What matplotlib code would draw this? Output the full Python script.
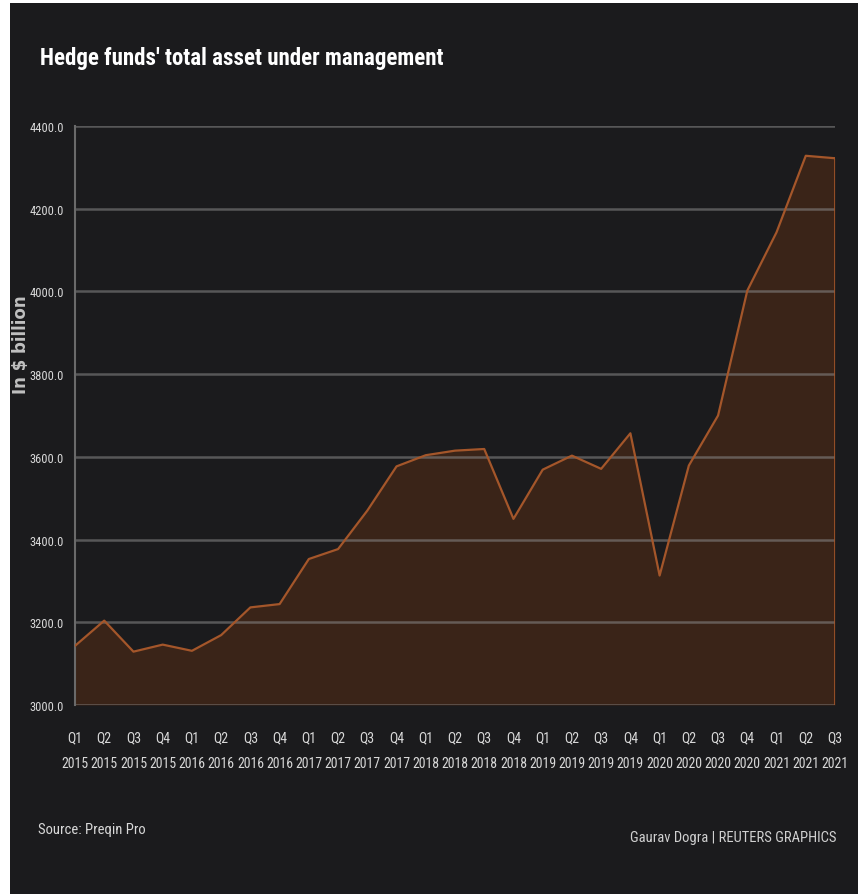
import matplotlib
matplotlib.use("Agg")
import matplotlib.pyplot as plt
from matplotlib.patches import Rectangle
from matplotlib import font_manager

quarters = ["Q1", "Q2", "Q3", "Q4"] * 6 + ["Q1", "Q2", "Q3"]
years = ([str(y) for y in range(2015, 2021) for _ in range(4)]
         + ["2021"] * 3)
aum = [3143, 3204, 3129, 3146, 3131, 3169, 3236, 3244,
       3353, 3377, 3470, 3577, 3604, 3615, 3619, 3450,
       3569, 3603, 3571, 3657, 3313, 3579, 3700, 4002,
       4143, 4328, 4322]
yticks = [3000, 3200, 3400, 3600, 3800, 4000, 4200, 4400]

names = {f.name for f in font_manager.fontManager.ttflist}
narrow = [n for n in ["Roboto Condensed", "Liberation Sans Narrow", "Open Sans Condensed"] if n in names]
cond = narrow + ["Roboto", "DejaVu Sans"]

BG = "#1b1b1d"
W, H = 858, 895
fig = plt.figure(figsize=(W / 100, H / 100), dpi=100, facecolor="white")
fig.patches.append(Rectangle((10 / W, 0), 1 - 10 / W, 1 - 4 / H,
                             transform=fig.transFigure, facecolor=BG,
                             edgecolor="none", zorder=-10))

ax = fig.add_axes([75 / W, 1 - 706 / H, (835 - 75) / W, (706 - 127) / H])
ax.set_facecolor(BG)
ax.patch.set_alpha(0)
x = list(range(len(aum)))
ax.fill_between(x, 3000, aum, color="#3a2418", zorder=1, linewidth=0)
ax.plot(x, aum, color="#a4562a", lw=1.6, zorder=3)
ax.plot([x[-1], x[-1]], [3000, aum[-1]], color="#a4562a", lw=1.2, zorder=3)
ax.set_xlim(0, len(aum) - 1)
ax.set_ylim(3000, 4400)
for v in yticks:
    ax.axhline(v, color="#8a8a8a", lw=1.8, alpha=0.55, zorder=2)
ax.set_yticks(yticks)
ax.set_yticklabels([f"{v:.1f}" for v in yticks], fontsize=9,
                   color="#d8d8d8", family=cond)
ax.set_xticks(x)
ax.set_xticklabels([f"{q}\n{y}" for q, y in zip(quarters, years)],
                   fontsize=10, color="#d8d8d8", family=cond, linespacing=2.1)
ax.tick_params(axis="x", length=0, pad=18)
ax.tick_params(axis="y", length=0, pad=8)
for s in ["top", "right", "bottom"]:
    ax.spines[s].set_visible(False)
ax.spines["left"].set_color("#6a6a6a")
ax.spines["left"].set_linewidth(1.5)

fig.text(21 / W, 1 - 345 / H, "In $ billion", rotation=90, ha="center",
         va="center", fontsize=12, fontweight="bold", color="#c0c0c0",
         family="DejaVu Sans")
fig.text(40 / W, 1 - 59 / H, "Hedge funds' total asset under management",
         ha="left", va="center", fontsize=16.5, fontweight="bold",
         color="white", family=cond)
fig.text(38 / W, 1 - 830 / H, "Source: Preqin Pro", ha="left", va="center",
         fontsize=10.5, color="#d8d8d8", family=cond)
fig.text(836 / W, 1 - 838 / H, "Gaurav Dogra | REUTERS GRAPHICS", ha="right",
         va="center", fontsize=10.5, color="#d0d0d0", family=cond)

fig.savefig("out.png", dpi=100, facecolor=fig.get_facecolor())
